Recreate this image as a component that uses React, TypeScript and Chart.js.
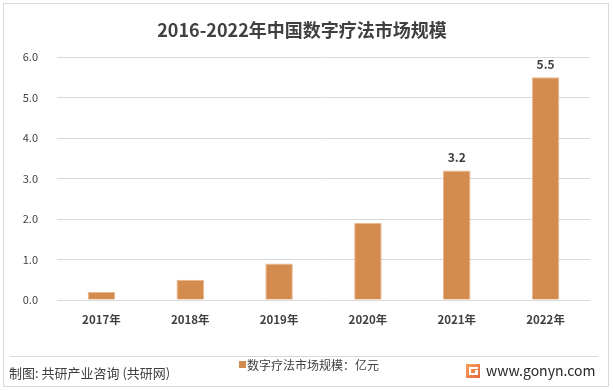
import React, { useEffect, useRef } from "react";
import { Chart, registerables } from "chart.js";

Chart.register(...registerables);

const title = "2016-2022年中国数字疗法市场规模";
const categories = ["2017年", "2018年", "2019年", "2020年", "2021年", "2022年"];
const values = [0.2, 0.5, 0.9, 1.9, 3.2, 5.5];
const shownLabels: (string | null)[] = [null, null, null, null, "3.2", "5.5"];
const seriesName = "数字疗法市场规模：亿元";
const sourceText = "制图: 共研产业咨询 (共研网)";
const siteText = "www.gonyn.com";

const FONT = "'Noto Sans CJK SC', 'Noto Sans', sans-serif";
const BAR = "#D48C4E";

const decorPlugin = {
  id: "decor",
  beforeDraw(chart: any) {
    const ctx = chart.ctx;
    ctx.save();
    ctx.fillStyle = "#ffffff";
    ctx.fillRect(0, 0, chart.width, chart.height);
    ctx.restore();
  },
  afterDraw(chart: any) {
    const ctx = chart.ctx;
    ctx.save();
    // outer border
    ctx.strokeStyle = "#d9d9d9";
    ctx.lineWidth = 1;
    ctx.strokeRect(3.5, 3.5, 605, 383);
    // separator
    ctx.beginPath();
    ctx.moveTo(10, 356.5);
    ctx.lineTo(598, 356.5);
    ctx.stroke();
    // title
    ctx.fillStyle = "#404040";
    ctx.font = `bold 18px ${FONT}`;
    ctx.textAlign = "center";
    ctx.textBaseline = "middle";
    ctx.fillText(title, 302, 30);
    // data labels
    const meta = chart.getDatasetMeta(0);
    ctx.font = `bold 12px ${FONT}`;
    ctx.fillStyle = "#404040";
    meta.data.forEach((bar: any, i: number) => {
      const t = shownLabels[i];
      if (t) ctx.fillText(t, bar.x, bar.y - 13);
    });
    // legend
    const ds = chart.data.datasets[0];
    ctx.fillStyle = ds.backgroundColor;
    ctx.fillRect(239, 361, 7, 7);
    ctx.fillStyle = "#404040";
    ctx.font = `12px ${FONT}`;
    ctx.textAlign = "left";
    ctx.fillText(ds.label, 247, 365);
    // source
    ctx.font = `13px ${FONT}`;
    ctx.fillText(sourceText, 9, 373);
    // logo
    const g = ctx.createLinearGradient(466, 364, 480, 378);
    g.addColorStop(0, "#F6A25A");
    g.addColorStop(1, "#E8663A");
    ctx.fillStyle = g;
    ctx.fillRect(466, 364, 14, 14);
    ctx.fillStyle = "#ffffff";
    ctx.fillRect(469, 367, 9, 2);
    ctx.fillRect(469, 367, 2, 8);
    ctx.fillRect(469, 373, 9, 2);
    ctx.fillRect(475, 370, 3, 4);
    // site
    ctx.fillStyle = "#262626";
    ctx.font = `14px ${FONT}`;
    ctx.fillText(siteText, 486, 371);
    ctx.restore();
  },
};

export default function App() {
  const ref = useRef<HTMLCanvasElement | null>(null);
  useEffect(() => {
    if (!ref.current) return;
    const chart = new Chart(ref.current, {
      type: "bar",
      data: {
        labels: categories,
        datasets: [
          {
            label: seriesName,
            data: values,
            backgroundColor: BAR,
            borderColor: "#E9B990",
            borderWidth: 1,
            barPercentage: 0.31,
            categoryPercentage: 1,
          },
        ],
      },
      options: {
        responsive: false,
        animation: false,
        devicePixelRatio: 1,
        layout: { padding: { top: 57, left: 0, right: 23, bottom: 60 } },
        plugins: {
          legend: { display: false },
          title: { display: false },
          tooltip: { enabled: false },
        },
        scales: {
          x: {
            grid: { display: false, drawTicks: false },
            border: { display: false },
            ticks: {
              padding: 13,
              color: "#404040",
              font: { family: FONT, size: 11.5, weight: "bold" },
            },
            afterFit: (s: any) => {
              s.height = 30;
            },
          },
          y: {
            min: 0,
            max: 6,
            grid: { color: "#d9d9d9", drawTicks: false },
            border: { display: false },
            ticks: {
              stepSize: 1,
              padding: 19,
              color: "#404040",
              font: { family: FONT, size: 11 },
              callback: (v: any) => Number(v).toFixed(1),
            },
            afterFit: (s: any) => {
              s.width = 57;
            },
          },
        },
      },
      plugins: [decorPlugin],
    });
    return () => chart.destroy();
  }, []);
  return (
    <div style={{ position: "absolute", left: 0, top: 0, width: 613, height: 390, background: "#fff" }}>
      <canvas ref={ref} width={613} height={390} style={{ width: 613, height: 390, display: "block" }} />
    </div>
  );
}
